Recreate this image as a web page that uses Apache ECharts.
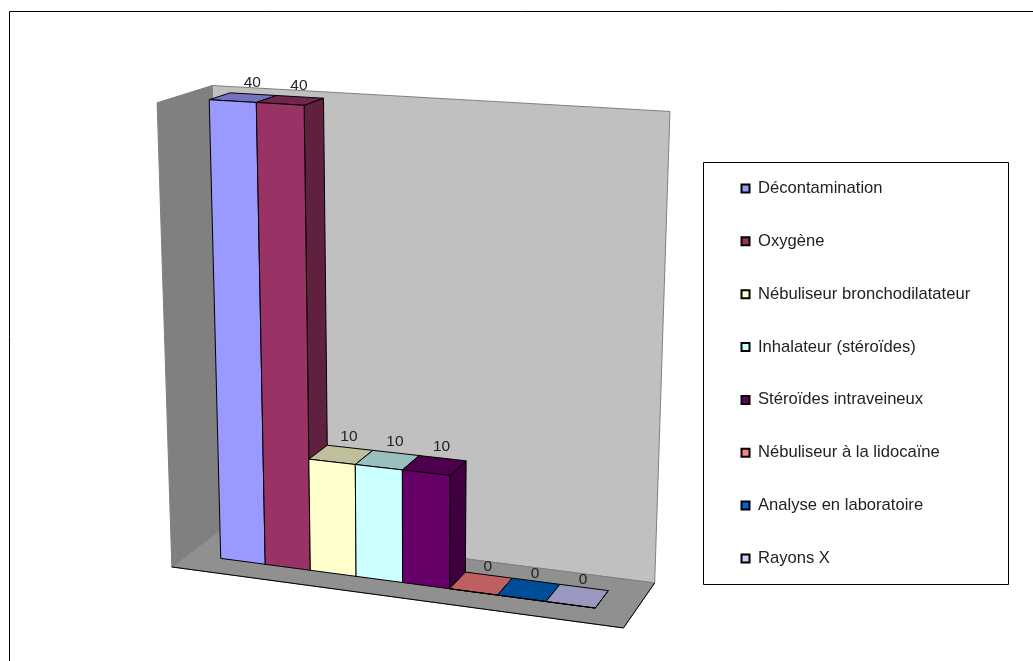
<!DOCTYPE html>
<html>
<head>
<meta charset="utf-8">
<style>html,body{margin:0;padding:0;background:#fff;overflow:hidden}#chart{width:1033px;height:661px}</style>
<script src="https://cdn.jsdelivr.net/npm/echarts@6/dist/echarts.min.js"></script>
</head>
<body>
<div id="chart"></div>
<script>
// Treatments and the percentage reported for each.
const categories = [
  'Décontamination', 'Oxygène', 'Nébuliseur bronchodilatateur', 'Inhalateur (stéroïdes)',
  'Stéroïdes intraveineux', 'Nébuliseur à la lidocaïne', 'Analyse en laboratoire', 'Rayons X'
];
const values = [40, 40, 10, 10, 10, 0, 0, 0];
const colors = ['#9999FF', '#993366', '#FFFFCC', '#CCFFFF', '#660066', '#FF8080', '#0066CC', '#CCCCFF'];

// Perspective camera: x = (a.p)/(c.p), y = (b.p)/(c.p) with p = (1, u, w, d).
const CAM_X = [220.7333, 340.7100, -23.5092, 24.4739];
const CAM_Y = [558.3924, 15.1316, -464.3923, -4.6088];
const CAM_D = [1, -0.05681, -0.05721, 0.02008];

// Extent of the room around the bars, in category slots and depth units.
const ROOM = { slotMin: -0.73, slotMax: 8.77, depthFront: -0.805, depthBack: 1.736, valueTop: 40.05 };
const BAR_DEPTH = 1;
const TOP_SHADE = 0.75, SIDE_SHADE = 0.625;

const dot = (c, p) => c[0] * p[0] + c[1] * p[1] + c[2] * p[2] + c[3] * p[3];
function shade(hex, k) {
  const n = parseInt(hex.slice(1), 16);
  const f = s => Math.round(((n >> s) & 255) * k);
  return 'rgb(' + f(16) + ',' + f(8) + ',' + f(0) + ')';
}

// Takes a point through the cartesian scales, then through the camera.
function projector(params, api) {
  const g = params.coordSys;
  return function (slot, value, depth) {
    const c = api.coord([slot, value]);
    const p = [1, (c[0] - g.x) / g.width, (g.y + g.height - c[1]) / g.height, depth];
    const D = dot(CAM_D, p);
    return [dot(CAM_X, p) / D, dot(CAM_Y, p) / D];
  };
}

function poly(points, fill, stroke, width) {
  return {
    type: 'polygon', shape: { points: points },
    style: { fill: fill, stroke: stroke, lineWidth: width === undefined ? 1 : width, lineJoin: 'round' }
  };
}

function renderRoom(params, api) {
  const P = projector(params, api);
  const a = ROOM.slotMin, b = ROOM.slotMax, f = ROOM.depthFront, k = ROOM.depthBack, t = ROOM.valueTop;
  return {
    type: 'group',
    children: [
      poly([P(a, 0, f), P(a, 0, k), P(a, t, k), P(a, t, f)], '#808080', '#808080'),
      poly([P(a, 0, k), P(b, 0, k), P(b, t, k), P(a, t, k)], '#C0C0C0', '#808080'),
      poly([P(a, 0, f), P(b, 0, f), P(b, 0, k), P(a, 0, k)], '#909090', '#808080'),
      {
        type: 'polyline', shape: { points: [P(a, 0, f), P(b, 0, f), P(b, 0, k)] },
        style: { fill: null, stroke: '#000', lineWidth: 1 }
      }
    ]
  };
}

function renderBar(params, api) {
  const P = projector(params, api);
  const i = api.value(0), v = api.value(1), color = colors[i];
  const l = i, r = i + 1, d = BAR_DEPTH;
  const mid = P(i + 0.5, v, d);
  return {
    type: 'group',
    children: [
      poly([P(r, 0, 0), P(r, 0, d), P(r, v, d), P(r, v, 0)], shade(color, SIDE_SHADE), '#000'),
      poly([P(l, v, 0), P(r, v, 0), P(r, v, d), P(l, v, d)], shade(color, TOP_SHADE), '#000'),
      poly([P(l, 0, 0), P(r, 0, 0), P(r, v, 0), P(l, v, 0)], color, '#000'),
      {
        type: 'text', z2: 10,
        style: {
          x: mid[0] - 1, y: mid[1] - (v > 0 ? 3 : 0), text: String(v),
          fill: '#222', font: '15.5px "Liberation Sans", Arial, sans-serif',
          align: 'center', verticalAlign: 'bottom'
        }
      }
    ]
  };
}

const barSeries = categories.map((name, i) => ({
  name: name, type: 'custom', clip: false, silent: true, z: 3 + i,
  itemStyle: { color: colors[i] },
  data: [[i, values[i]]],
  renderItem: renderBar
}));

const chart = echarts.init(document.getElementById('chart'), null, { renderer: 'canvas' });
chart.setOption({
  animation: false,
  backgroundColor: '#fff',
  grid: { left: 220, right: 438, top: 100, bottom: 101 },
  xAxis: { type: 'value', min: 0, max: 8, show: false },
  yAxis: { type: 'value', min: 0, max: 40, interval: 10, show: false },
  graphic: [
    { type: 'rect', z: -1, shape: { x: 9.5, y: 11.5, width: 1100, height: 700 },
      style: { fill: '#fff', stroke: '#000', lineWidth: 1 } },
    { type: 'rect', z: 1, shape: { x: 703.5, y: 162.5, width: 305, height: 422 },
      style: { fill: '#fff', stroke: '#000', lineWidth: 1 } }
  ],
  legend: {
    data: categories, orient: 'vertical', left: 740.5, top: 180, padding: 0,
    itemWidth: 8, itemHeight: 8, itemGap: 35.85, selectedMode: false, icon: 'rect',
    itemStyle: { borderColor: '#000', borderWidth: 2 },
    textStyle: { color: '#222', fontFamily: '"Liberation Sans", Arial, sans-serif', fontSize: 16.6,
      lineHeight: 16, padding: [0, 0, 0, 3.5] }
  },
  series: [
    { type: 'custom', clip: false, silent: true, z: 2, data: [[0, 0]], renderItem: renderRoom }
  ].concat(barSeries)
});
</script>
</body>
</html>
